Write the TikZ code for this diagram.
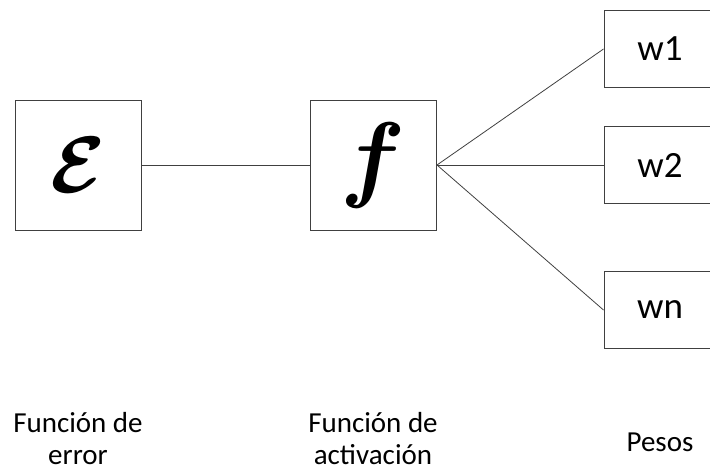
\documentclass[tikz,border=0pt]{standalone}
\usepackage{fontspec}
\setmainfont{Carlito}
\usepackage{amsmath,amssymb,bm}
\usetikzlibrary{positioning}
\definecolor{linegray}{RGB}{64,64,64}

\begin{document}
\begin{tikzpicture}[x=1pt,y=-1pt]
\tikzstyle{bigbox}=[draw=linegray,line width=1pt,minimum width=126pt,minimum height=130pt,inner sep=0pt]
\tikzstyle{wbox}=[draw=linegray,line width=1pt,minimum width=112pt,minimum height=77pt,inner sep=0pt,font=\fontsize{37}{44}\selectfont]
\tikzstyle{caption}=[align=center,inner sep=1pt,font=\fontsize{29}{32}\selectfont]

\clip (0,0) rectangle (710,472);

\node[bigbox] (err) at (78,165) {\scalebox{8}{$\boldsymbol{\mathcal{E}}$}};
\node[bigbox] (act) at (373.5,165) {\scalebox{9.6}{$\boldsymbol{f}$}};

\node[wbox] (w1) at (660,49) {w1};
\node[wbox] (w2) at (660,165) {w2};
\node[wbox] (wn) at (660,310) {wn};

\draw[linegray,line width=1pt] (err)--(act);
\draw[linegray,line width=0.8pt] (act.east)--(w1.west);
\draw[linegray,line width=0.8pt] (act.east)--(w2.west);
\draw[linegray,line width=0.8pt] (act.east)--(wn.west);

\node[caption] (lerr) at (78,439) {Función de\\error};
\node[caption] (lact) at (373,439) {Función de\\activación};
\node[caption] (lw) at (660,442) {Pesos};
\end{tikzpicture}
\end{document}
